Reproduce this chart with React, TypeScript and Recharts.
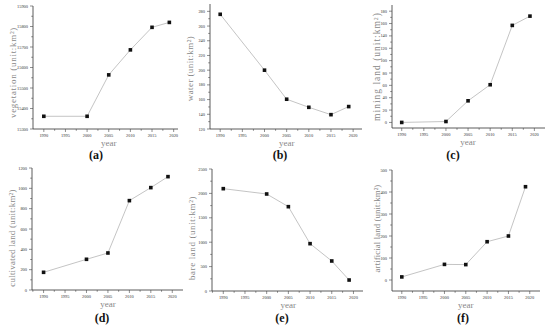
import React from "react";
import { LineChart, Line, XAxis, YAxis } from "recharts";

const years = [1990, 2000, 2005, 2010, 2015, 2019];
const vegetation = [15362, 15362, 15564, 15686, 15796, 15820];
const water = [276, 200, 160.5, 149.5, 139.5, 150.5];
const mining = [0, 1.5, 35, 61, 157, 172];
const cultivated = [174, 302, 364, 879, 1007, 1115];
const bare = [2097, 1988, 1728, 970, 615, 225];
const artificial = [14, 71, 70, 174, 200, 424];

const yearTicks = [1990, 1995, 2000, 2005, 2010, 2015, 2020];
const vegTicks = [15300, 15400, 15500, 15600, 15700, 15800, 15900];
const waterTicks = [120, 140, 160, 180, 200, 220, 240, 260, 280];
const miningTicks = [0, 20, 40, 60, 80, 100, 120, 140, 160, 180];
const cultTicks = [0, 200, 400, 600, 800, 1000, 1200];
const bareTicks = [0, 500, 1000, 1500, 2000, 2500];
const artTicks = [0, 100, 200, 300, 400, 500];

const SERIF = "'Liberation Serif', 'DejaVu Serif', serif";

// major ticks plus half-step minor ticks inside the domain
function withMinor(major: number[], lo: number, hi: number) {
  const step = major[1] - major[0];
  const out: number[] = [];
  for (let i = 0; i < major.length; i++) {
    out.push(major[i]);
    const m = major[i] + step / 2;
    if (m > lo && m < hi) out.push(m);
  }
  const pre = major[0] - step / 2;
  if (pre > lo) out.unshift(pre);
  return out;
}

const panels = [
  { id: "a", values: vegetation, yLabel: "vegetation (unit:km²)", yTicks: vegTicks, yDomain: [15300, 15900], xDomain: [1987.5, 2021], col: 0, row: 0, L: 33, T: 6, R: 178, B: 129, labX: 13, labDy: 5, fs: 9, ls: 0.7, letX: 96 },
  { id: "b", values: water, yLabel: "water (unit:km²)", yTicks: waterTicks, yDomain: [120, 290], xDomain: [1987.7, 2022], col: 180, row: 0, L: 210, T: 4, R: 362, B: 129, labX: 10, labDy: 2, fs: 9, ls: 0.4, letX: 280 },
  { id: "c", values: mining, yLabel: "mining land (unit:km²)", yTicks: miningTicks, yDomain: [-9, 190], xDomain: [1987.8, 2022.4], col: 365, row: 0, L: 392, T: 5, R: 545, B: 128, labX: 12, labDy: 0, fs: 9.5, ls: 1, letX: 453 },
  { id: "d", values: cultivated, yLabel: "cultivated land (unit:km²)", yTicks: cultTicks, yDomain: [0, 1200], xDomain: [1987.3, 2022.5], col: 0, row: 163, L: 32, T: 168, R: 183, B: 290, labX: 12, labDy: 9, fs: 9, ls: 0.2, letX: 102 },
  { id: "e", values: bare, yLabel: "bare land (unit:km²)", yTicks: bareTicks, yDomain: [0, 2500], xDomain: [1987.4, 2022.2], col: 180, row: 163, L: 212, T: 169, R: 363, B: 291, labX: 12, labDy: 8, fs: 9, ls: 0.6, letX: 282 },
  { id: "f", values: artificial, yLabel: "artificial land (unit:km²)", yTicks: artTicks, yDomain: [-50, 500], xDomain: [1987.7, 2022.4], col: 365, row: 163, L: 392, T: 170, R: 540, B: 291, labX: 12, labDy: -2, fs: 8.8, ls: 0.1, letX: 463 },
];

const Square = (props: any) => {
  const { cx, cy } = props;
  if (cx == null || cy == null) return null;
  return <rect x={cx - 1.8} y={cy - 1.8} width={3.6} height={3.6} fill="#111" />;
};

const XTick = (props: any) => {
  const { x, y, payload } = props;
  const v = payload.value;
  const major = v % 5 === 0;
  return (
    <g>
      <line x1={x} y1={y} x2={x} y2={y + (major ? 3 : 1.8)} stroke="#444" strokeWidth={0.6} />
      {major && (
        <text x={x} y={y + 7.5} textAnchor="middle" fontSize={4.4} fill="#333" fontFamily={SERIF}>
          {v}
        </text>
      )}
      {v === 2005 && (
        <text x={x} y={y + 17} textAnchor="middle" fontSize={9} fill="#888" fontFamily={SERIF}>
          year
        </text>
      )}
    </g>
  );
};

const makeYTick = (majors: number[]) => (props: any) => {
  const { x, y, payload } = props;
  const v = payload.value;
  const major = majors.includes(v);
  return (
    <g>
      <line x1={x} y1={y} x2={x - (major ? 3 : 1.8)} y2={y} stroke="#444" strokeWidth={0.6} />
      {major && (
        <text x={x - 5} y={y} dy="0.35em" textAnchor="end" fontSize={4.4} fill="#333" fontFamily={SERIF}>
          {v}
        </text>
      )}
    </g>
  );
};

const makeYLabel = (p: any) => (props: any) => {
  const vb = props.viewBox || {};
  const x = vb.x + p.labX;
  const y = vb.y + vb.height / 2 + p.labDy;
  return (
    <text
      x={x}
      y={y}
      dy="0.35em"
      transform={`rotate(-90 ${x} ${y})`}
      textAnchor="middle"
      fontSize={p.fs}
      letterSpacing={p.ls}
      fill="#888"
      fontFamily={SERIF}
    >
      {p.yLabel}
    </text>
  );
};

function Panel({ p }: any) {
  const data = years.map((yr, i) => ({ year: yr, value: p.values[i] }));
  const w = p.R + 2 - p.col;
  const h = p.B - p.row + 22;
  const xTicks = withMinor(yearTicks, p.xDomain[0], p.xDomain[1]);
  const yTicks = withMinor(p.yTicks, p.yDomain[0], p.yDomain[1]);
  return (
    <>
      <div style={{ position: "absolute", left: p.col, top: p.row }}>
        <LineChart width={w} height={h} data={data} margin={{ top: p.T - p.row, right: 2, left: 0, bottom: 0 }}>
          <XAxis
            dataKey="year"
            type="number"
            domain={p.xDomain}
            ticks={xTicks}
            interval={0}
            allowDataOverflow
            height={22}
            tickSize={0}
            tickMargin={0}
            tickLine={false}
            axisLine={{ stroke: "#333", strokeWidth: 0.8 }}
            tick={<XTick />}
          />
          <YAxis
            type="number"
            domain={p.yDomain}
            ticks={yTicks}
            interval={0}
            allowDataOverflow
            width={p.L - p.col}
            tickSize={0}
            tickMargin={0}
            tickLine={false}
            axisLine={{ stroke: "#333", strokeWidth: 0.8 }}
            tick={makeYTick(p.yTicks)}
            label={{ value: p.yLabel, position: "insideLeft", content: makeYLabel(p) }}
          />
          <Line
            dataKey="value"
            stroke="#b5b5b5"
            strokeWidth={0.8}
            dot={<Square />}
            activeDot={false}
            isAnimationActive={false}
          />
        </LineChart>
      </div>
      <div
        style={{
          position: "absolute",
          left: p.letX - 20,
          width: 40,
          top: p.row + 149,
          textAlign: "center",
          fontFamily: SERIF,
          fontWeight: "bold",
          fontSize: 12,
          lineHeight: "12px",
          color: "#111",
        }}
      >
        ({p.id})
      </div>
    </>
  );
}

export default function App() {
  return (
    <div style={{ position: "absolute", left: 0, top: 0, width: 550, height: 326, background: "#fff", overflow: "hidden" }}>
      {panels.map((p) => (
        <Panel key={p.id} p={p} />
      ))}
    </div>
  );
}
